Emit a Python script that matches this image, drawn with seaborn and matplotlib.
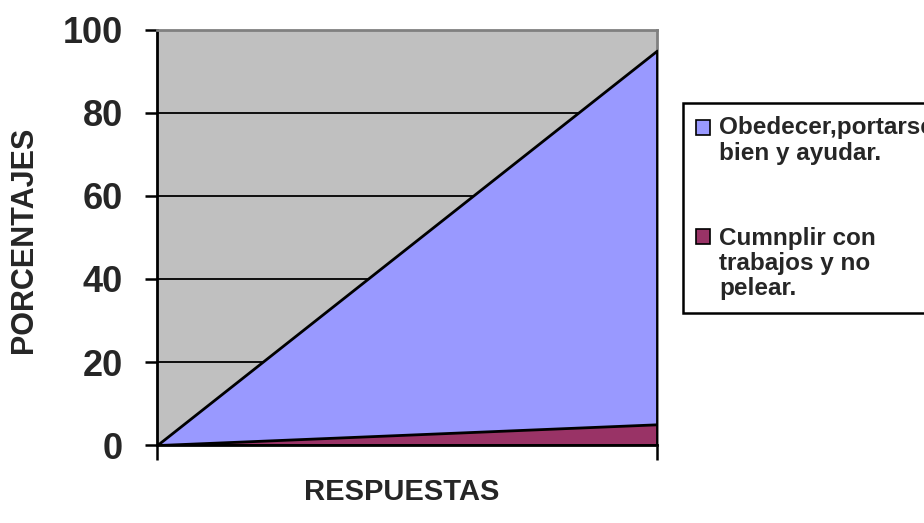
import matplotlib
matplotlib.use('Agg')
import matplotlib.pyplot as plt
from matplotlib.patches import Patch, Rectangle
from matplotlib.legend_handler import HandlerPatch
import seaborn as sns

# Datos del grafico
puntos = [0, 1]
obedecer = [0, 95]
cumplir = [0, 5]
etiquetas = ['Obedecer,portarse\nbien y ayudar.', 'Cumnplir con\ntrabajos y no\npelear.']
colores = ['#9999FF', '#993366']
yticks = [0, 20, 40, 60, 80, 100]

sns.set_style('white')
plt.rcParams['font.family'] = ['Liberation Sans', 'DejaVu Sans']
plt.rcParams['font.weight'] = 'bold'

LEG_FS = 17.5
LEG_LS = 1.12


# cuadrito de la leyenda alineado con la primera linea del texto (como Excel)
class HandlerArriba(HandlerPatch):
    def __init__(self, nlineas):
        super().__init__()
        self.nlineas = nlineas

    def create_artists(self, legend, orig_handle, xdescent, ydescent, width, height, fontsize, trans):
        shift = (self.nlineas - 1) / 2 * LEG_LS * fontsize
        p = Rectangle((-xdescent, -ydescent + shift), width, height)
        self.update_prop(p, orig_handle, legend)
        p.set_transform(trans)
        return [p]


fig = plt.figure(figsize=(9.24, 5.23), dpi=100)
ax = fig.add_axes([0.170, 0.149, 0.541, 0.794])
ax.set_facecolor('#C0C0C0')

# lineas de cuadricula
ax.yaxis.grid(True, color='black', lw=1.3)
ax.set_axisbelow(True)

# areas superpuestas
ax.fill_between(puntos, obedecer, facecolor=colores[0], edgecolor='black', lw=2, zorder=3)
ax.fill_between(puntos, cumplir, facecolor=colores[1], edgecolor='black', lw=2, zorder=3.5)

ax.set_xlim(0, 1)
ax.set_ylim(0, 100)
ax.set_yticks(yticks)
ax.set_xticks(puntos)
ax.set_xticklabels(['', ''])
ax.tick_params(axis='y', direction='out', length=8.5, width=1.8, color='black',
               labelsize=26, pad=16, left=True)
ax.tick_params(axis='x', direction='out', length=11, width=1.8, color='black', bottom=True)

for s in ['top', 'right']:
    ax.spines[s].set_color('#808080')
    ax.spines[s].set_linewidth(2)
for s in ['left', 'bottom']:
    ax.spines[s].set_color('black')
    ax.spines[s].set_linewidth(2)
ax.spines['bottom'].set_zorder(4)

ax.set_ylabel('PORCENTAJES', fontsize=22, fontweight='bold')
ax.yaxis.set_label_coords(-0.236, 0.494)
ax.set_xlabel('RESPUESTAS', fontsize=21, fontweight='bold')
ax.xaxis.set_label_coords(0.49, -0.08)

handles = [Patch(facecolor=c, edgecolor='black', lw=1.2) for c in colores]
mapa = {h: HandlerArriba(e.count('\n') + 1) for h, e in zip(handles, etiquetas)}
leg = fig.legend(handles, etiquetas, loc='upper left', bbox_to_anchor=(0.739, 0.803),
                 bbox_transform=fig.transFigure, borderaxespad=0, fontsize=LEG_FS,
                 frameon=True, fancybox=False, edgecolor='black', framealpha=1,
                 handlelength=0.55, handleheight=0.55, handletextpad=0.4,
                 labelspacing=2.55, borderpad=0.55, handler_map=mapa)
leg.get_frame().set_linewidth(1.8)
for t in leg.get_texts():
    t.set_linespacing(LEG_LS)

fig.savefig('out.png', dpi=100)
